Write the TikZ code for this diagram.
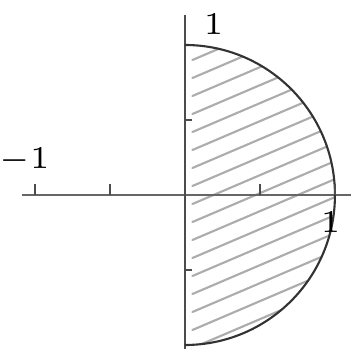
\documentclass[tikz,border=0pt]{standalone}
\begin{document}
\begin{tikzpicture}[scale=1]
	\useasboundingbox (-1.233,-1.027) rectangle (1.107,1.3);
	\fill [white] (-1.233,-1.027) rectangle (1.107,1.3);
	
	\begin{scope}
		\clip (0,1) arc (90:-90:1) -- cycle;
		\foreach \i in {-1.5,-1.38,...,1.0}
			\draw [gray!65, line cap=round] (0.05,\i) --++ (1.1,0.47);
	\end{scope}
	
	\draw [gray!80!black, thin] (-1.087,0) -- (1.107,0);
	\draw [gray!60!black, line width=0.5pt] (0,1.2) -- (0,-1.027);
	\draw [gray!40!black, thin] (0,1) arc (90:-90:1);
	
	\foreach \x in {-1,-0.5,0.5,1}
		\draw [gray!60!black, thin] (\x,0) --++ (0,0.07);
	\foreach \y in {0.5,-0.5}
		\draw [gray!60!black, thin] (0,\y) --++ (0.05,0);
	
	\node (xneg) at (-1.07,0.23) {\fontsize{6}{7}\selectfont $-1$};
	\node (ytop) at (0.19,1.14) {\fontsize{6}{7}\selectfont $1$};
	\node (xpos) at (0.97,-0.18) {\fontsize{6}{7}\selectfont $1$};
\end{tikzpicture}
\end{document}
